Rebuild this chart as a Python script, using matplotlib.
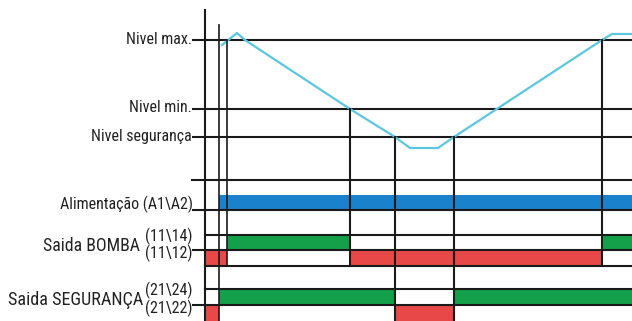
import matplotlib
matplotlib.use("Agg")
import matplotlib.pyplot as plt

plt.rcParams['font.family'] = ['Roboto Condensed', 'Liberation Sans', 'DejaVu Sans']

# ---- data (time axis in arbitrary units, level axis inverted) ----
level_names = ["Nivel max.", "Nivel min.", "Nivel segurança"]
level_values = [40, 109, 137]

# level curve (time, level)
curve_t = [222, 237, 245, 350, 395, 410, 438, 454, 602, 612, 632]
curve_y = [45, 33, 40, 109, 137, 148, 148, 137, 40, 34, 34]

# event times
t_power = 219
t_relay = 227
t_min = 350
t_seg_off = 395
t_seg_on = 454
t_max = 602
t_end = 632

# output states: (start, end) intervals
power_on = [(t_power, t_end)]
bomba_14 = [(t_relay, t_min), (t_max, t_end)]
bomba_12 = [(205, t_relay), (t_min, t_max)]
seg_24 = [(t_power, t_seg_off), (t_seg_on, t_end)]
seg_22 = [(205, t_power), (t_seg_off, t_seg_on)]

row_labels = ["Alimentação (A1\\A2)", "Saida BOMBA", "Saida SEGURANÇA"]
contact_labels = [("(11\\14)", "(11\\12)"), ("(21\\24)", "(21\\22)")]

# ---- figure ----
fig = plt.figure(figsize=(6.32, 3.21), dpi=100)
ax = fig.add_axes([0, 0, 1, 1])
ax.set_xlim(0, 632)
ax.set_ylim(321, 0)
ax.axis('off')

BLUE = '#1a82cc'
GREEN = '#14a04a'
RED = '#e84848'
CYAN = '#5cc6e0'
K = '#1a1a1a'
TXT = '#222222'
lw = 1.5
fs = 11.5

x0 = 205
# level lines
for name, y in zip(level_names, level_values):
    ax.plot([193, t_end], [y, y], color=K, lw=lw)
    ax.text(192, y - 1, name, ha='right', va='center', fontsize=fs, color=TXT)

# level curve
ax.plot(curve_t, curve_y, color=CYAN, lw=1.6, solid_joinstyle='round')

# bars
def bars(intervals, top, bottom, color):
    for a, b in intervals:
        ax.fill_between([a, b], top, bottom, color=color, lw=0)

bars(power_on, 195, 210, BLUE)
bars(bomba_14, 235, 250, GREEN)
bars(bomba_12, 250, 266, RED)
bars(seg_24, 289, 305, GREEN)
bars(seg_22, 305, 321, RED)

# horizontal lines of timing rows
ax.plot([192, t_end], [180, 180], color=K, lw=lw)
ax.plot([193, t_end], [210, 210], color=K, lw=lw)
ax.plot([x0, t_end], [235, 235], color=K, lw=lw)
ax.plot([193, t_end], [250, 250], color=K, lw=lw)
ax.plot([x0, t_end], [266, 266], color=K, lw=lw)
ax.plot([x0, t_end], [289, 289], color=K, lw=lw)
ax.plot([193, t_end], [305, 305], color=K, lw=lw)

# vertical lines
ax.plot([x0, x0], [10, 321], color=K, lw=lw)
ax.plot([t_power, t_power], [25, 321], color=K, lw=1.2)
ax.plot([t_relay, t_relay], [40, 266], color=K, lw=1.2)
ax.plot([t_min, t_min], [109, 266], color=K, lw=lw)
ax.plot([t_seg_off, t_seg_off], [137, 321], color=K, lw=lw)
ax.plot([t_seg_on, t_seg_on], [137, 321], color=K, lw=lw)
ax.plot([t_max, t_max], [40, 266], color=K, lw=lw)

# row labels
ax.text(193, 204, row_labels[0], ha='right', va='center', fontsize=fs, color=TXT)
ax.text(140, 246, row_labels[1], ha='right', va='center', fontsize=12.8, color=TXT)
ax.text(143, 300, row_labels[2], ha='right', va='center', fontsize=13.1, color=TXT)
ax.text(193, 236, contact_labels[0][0], ha='right', va='center', fontsize=fs, color=TXT)
ax.text(193, 253, contact_labels[0][1], ha='right', va='center', fontsize=fs, color=TXT)
ax.text(193, 290, contact_labels[1][0], ha='right', va='center', fontsize=fs, color=TXT)
ax.text(193, 308, contact_labels[1][1], ha='right', va='center', fontsize=fs, color=TXT)

fig.savefig('out.png', dpi=100, facecolor='white')
